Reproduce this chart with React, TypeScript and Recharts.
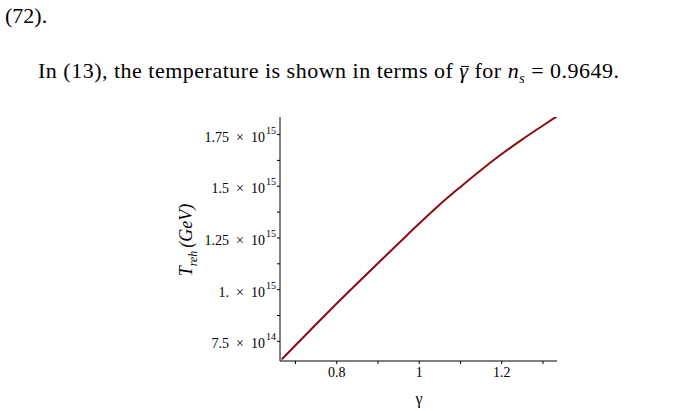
import React from "react";
import { LineChart, Line, XAxis, YAxis, Label } from "recharts";

// gamma values along the curve
const gamma = [
  0.6667, 0.7, 0.75, 0.8, 0.85, 0.9, 0.95, 1.0, 1.05, 1.1, 1.15, 1.2, 1.25,
  1.3, 1.3333,
];
// reheating temperature (GeV)
const tReh = [
  6.63e14, 7.31e14, 8.33e14, 9.33e14, 1.031e15, 1.128e15, 1.224e15, 1.32e15,
  1.412e15, 1.497e15, 1.579e15, 1.656e15, 1.727e15, 1.794e15, 1.838e15,
];

const xTicks = [0.7, 0.8, 0.9, 1.0, 1.1, 1.2, 1.3];
const xMajor = [0.8, 1.0, 1.2];
const xMajorLabels = ["0.8", "1", "1.2"];

const yTicks = [
  7.5e14, 8.75e14, 1e15, 1.125e15, 1.25e15, 1.375e15, 1.5e15, 1.625e15, 1.75e15,
];
const yMajor = [7.5e14, 1e15, 1.25e15, 1.5e15, 1.75e15];
const yMantissa = ["7.5", "1.", "1.25", "1.5", "1.75"];
const yExponent = ["14", "15", "15", "15", "15"];

const data = gamma.map((g, i) => ({ g, t: tReh[i] }));

const serif = "'Liberation Serif', 'Times New Roman', serif";

function XTick(props: any) {
  const { x, y, payload } = props;
  const i = xMajor.indexOf(payload.value);
  if (i < 0) return null;
  return (
    <text x={x} y={y + 11} textAnchor="middle" fontFamily={serif} fontSize={14} fill="#000">
      {xMajorLabels[i]}
    </text>
  );
}

function YTick(props: any) {
  const { x, y, payload } = props;
  const i = yMajor.indexOf(payload.value);
  if (i < 0) return null;
  return (
    <text x={x} y={y + 7} textAnchor="end" fontFamily={serif} fontSize={14} fill="#000">
      <tspan>{yMantissa[i]}</tspan>
      <tspan dx={7}>×</tspan>
      <tspan dx={7}>10</tspan>
      <tspan dy={-8} dx={1} fontSize={10}>
        {yExponent[i]}
      </tspan>
    </text>
  );
}

export default function App() {
  return (
    <div
      style={{
        position: "absolute",
        left: 0,
        top: 0,
        width: 679,
        height: 411,
        background: "#fff",
        fontFamily: serif,
        color: "#000",
      }}
    >
      <div style={{ position: "absolute", left: 5, top: 3, fontSize: 22, lineHeight: "normal" }}>
        (72).
      </div>
      <div
        style={{
          position: "absolute",
          left: 38,
          top: 58,
          fontSize: 22,
          letterSpacing: 0.5,
          whiteSpace: "nowrap",
          lineHeight: "normal",
        }}
      >
        In (13), the temperature is shown in terms of{" "}
        <span style={{ position: "relative", display: "inline-block" }}>
          <i>γ</i>
          <span
            style={{
              position: "absolute",
              left: 2,
              right: 0,
              top: 8,
              borderTop: "1.2px solid #000",
            }}
          />
        </span>{" "}
        for <i>n</i>
        <sub style={{ fontSize: 14, fontStyle: "italic" }}>s</sub> = 0.9649.
      </div>
      <div style={{ position: "absolute", left: 0, top: 0 }}>
        <LineChart
          width={679}
          height={411}
          data={data}
          margin={{ top: 117, right: 122, bottom: 20, left: 180 }}
        >
          <XAxis
            dataKey="g"
            type="number"
            domain={[0.6625, 1.334]}
            ticks={xTicks}
            tick={<XTick />}
            tickSize={3}
            stroke="#000"
            height={30}
            allowDataOverflow
          >
            <Label
              content={() => (
                <text x={419} y={404} textAnchor="middle" fontFamily={serif} fontSize={16}>
                  γ
                </text>
              )}
            />
          </XAxis>
          <YAxis
            dataKey="t"
            type="number"
            domain={[6.55e14, 1.835e15]}
            ticks={yTicks}
            tick={<YTick />}
            tickSize={3}
            tickMargin={1}
            stroke="#000"
            width={100}
            allowDataOverflow
          >
            <Label
              content={() => (
                <text
                  transform="translate(192 240) rotate(-90)"
                  textAnchor="middle"
                  fontFamily={serif}
                  fontSize={18}
                  fontStyle="italic"
                >
                  <tspan>T</tspan>
                  <tspan dy={5} fontSize={12}>reh</tspan>
                  <tspan dy={-5} dx={3}>(GeV)</tspan>
                </text>
              )}
            />
          </YAxis>
          <Line
            type="monotone"
            dataKey="t"
            stroke="#8b0a14"
            strokeWidth={2}
            dot={false}
            isAnimationActive={false}
          />
        </LineChart>
      </div>
    </div>
  );
}
